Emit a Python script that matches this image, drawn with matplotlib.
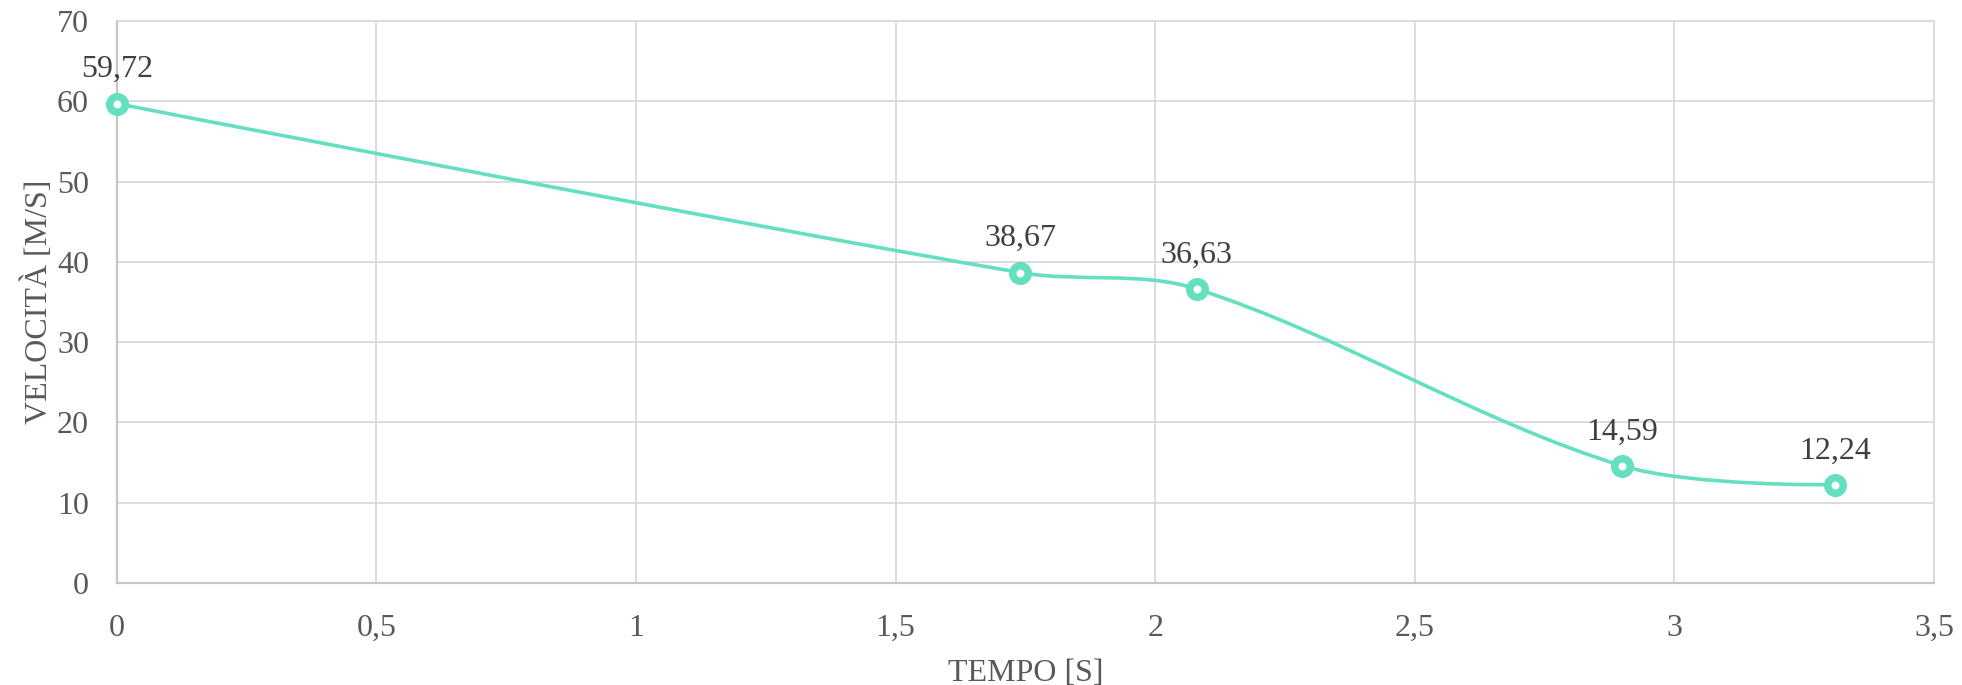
import numpy as np
import matplotlib.pyplot as plt
from matplotlib.path import Path
from matplotlib.patches import PathPatch

tempo = [0.0, 1.74, 2.08, 2.90, 3.31]
velocita = [59.72, 38.67, 36.63, 14.59, 12.24]
labels = ["59,72", "38,67", "36,63", "14,59", "12,24"]
x_ticks = [0, 0.5, 1, 1.5, 2, 2.5, 3, 3.5]
y_ticks = [0, 10, 20, 30, 40, 50, 60, 70]

line_color = "#64E0C1"
text_color = "#595959"

plt.rcParams["font.family"] = ["Liberation Serif", "DejaVu Serif"]


def smooth_path(ax, xs, ys):
    # Excel-like smoothed line, built in screen space with chord-weighted tangents
    pts = ax.transData.transform(np.column_stack([xs, ys]))
    n = len(pts)
    verts = [pts[0]]
    codes = [Path.MOVETO]

    def tangent(i):
        if i == 0 or i == n - 1:
            return np.zeros(2)
        return pts[i + 1] - pts[i - 1]

    def dist(a, b):
        return np.hypot(*(pts[b] - pts[a]))

    for i in range(n - 1):
        d = dist(i, i + 1)
        if i > 0:
            w1 = d / (dist(i - 1, i) + d)
        else:
            w1 = 0.0
        if i + 2 < n:
            w2 = d / (d + dist(i + 1, i + 2))
        else:
            w2 = 0.0
        c1 = pts[i] + tangent(i) * w1 / 3.0 * 1.0
        c2 = pts[i + 1] - tangent(i + 1) * w2 / 3.0 * 1.0
        verts += [c1, c2, pts[i + 1]]
        codes += [Path.CURVE4] * 3
    verts = ax.transData.inverted().transform(np.array(verts))
    return Path(verts, codes)


fig = plt.figure(figsize=(19.62, 6.85), dpi=100)
ax = fig.add_axes([0.0595, 0.1489, 0.9262, 0.8204])

ax.set_xlim(0, 3.5)
ax.set_ylim(0, 70)

ax.add_patch(PathPatch(smooth_path(ax, tempo, velocita), facecolor="none",
                       edgecolor=line_color, lw=2.6, zorder=3))
ax.plot(tempo, velocita, linestyle="none", marker="o", markersize=11.2,
        markerfacecolor="white", markeredgecolor=line_color,
        markeredgewidth=5.4, zorder=4, clip_on=False)

for x, y, lab in zip(tempo, velocita, labels):
    ax.annotate(lab, (x, y), xytext=(0, 19), textcoords="offset points",
                ha="center", va="baseline", fontsize=23, color="#404040")

ax.set_xticks(x_ticks)
ax.set_yticks(y_ticks)
ax.set_xticklabels([str(t).replace(".", ",") if t % 1 else str(int(t)) for t in x_ticks])
ax.set_yticklabels([str(t) for t in y_ticks])
ax.tick_params(axis="both", length=0, labelsize=23, labelcolor=text_color)
ax.tick_params(axis="x", pad=22)
ax.tick_params(axis="y", pad=20)

ax.grid(True, color="#d9d9d9", linewidth=1.3)
ax.set_axisbelow(True)
for side in ["top", "right"]:
    ax.spines[side].set_color("#d9d9d9")
    ax.spines[side].set_linewidth(1.3)
for side in ["left", "bottom"]:
    ax.spines[side].set_color("#c6c6c6")
    ax.spines[side].set_linewidth(1.6)

ax.set_xlabel("TEMPO [S]", fontsize=23, color=text_color, labelpad=12)
ax.set_ylabel("VELOCITÀ [M/S]", fontsize=23, color=text_color, labelpad=2)

fig.savefig("out.png", dpi=100, facecolor="white")
